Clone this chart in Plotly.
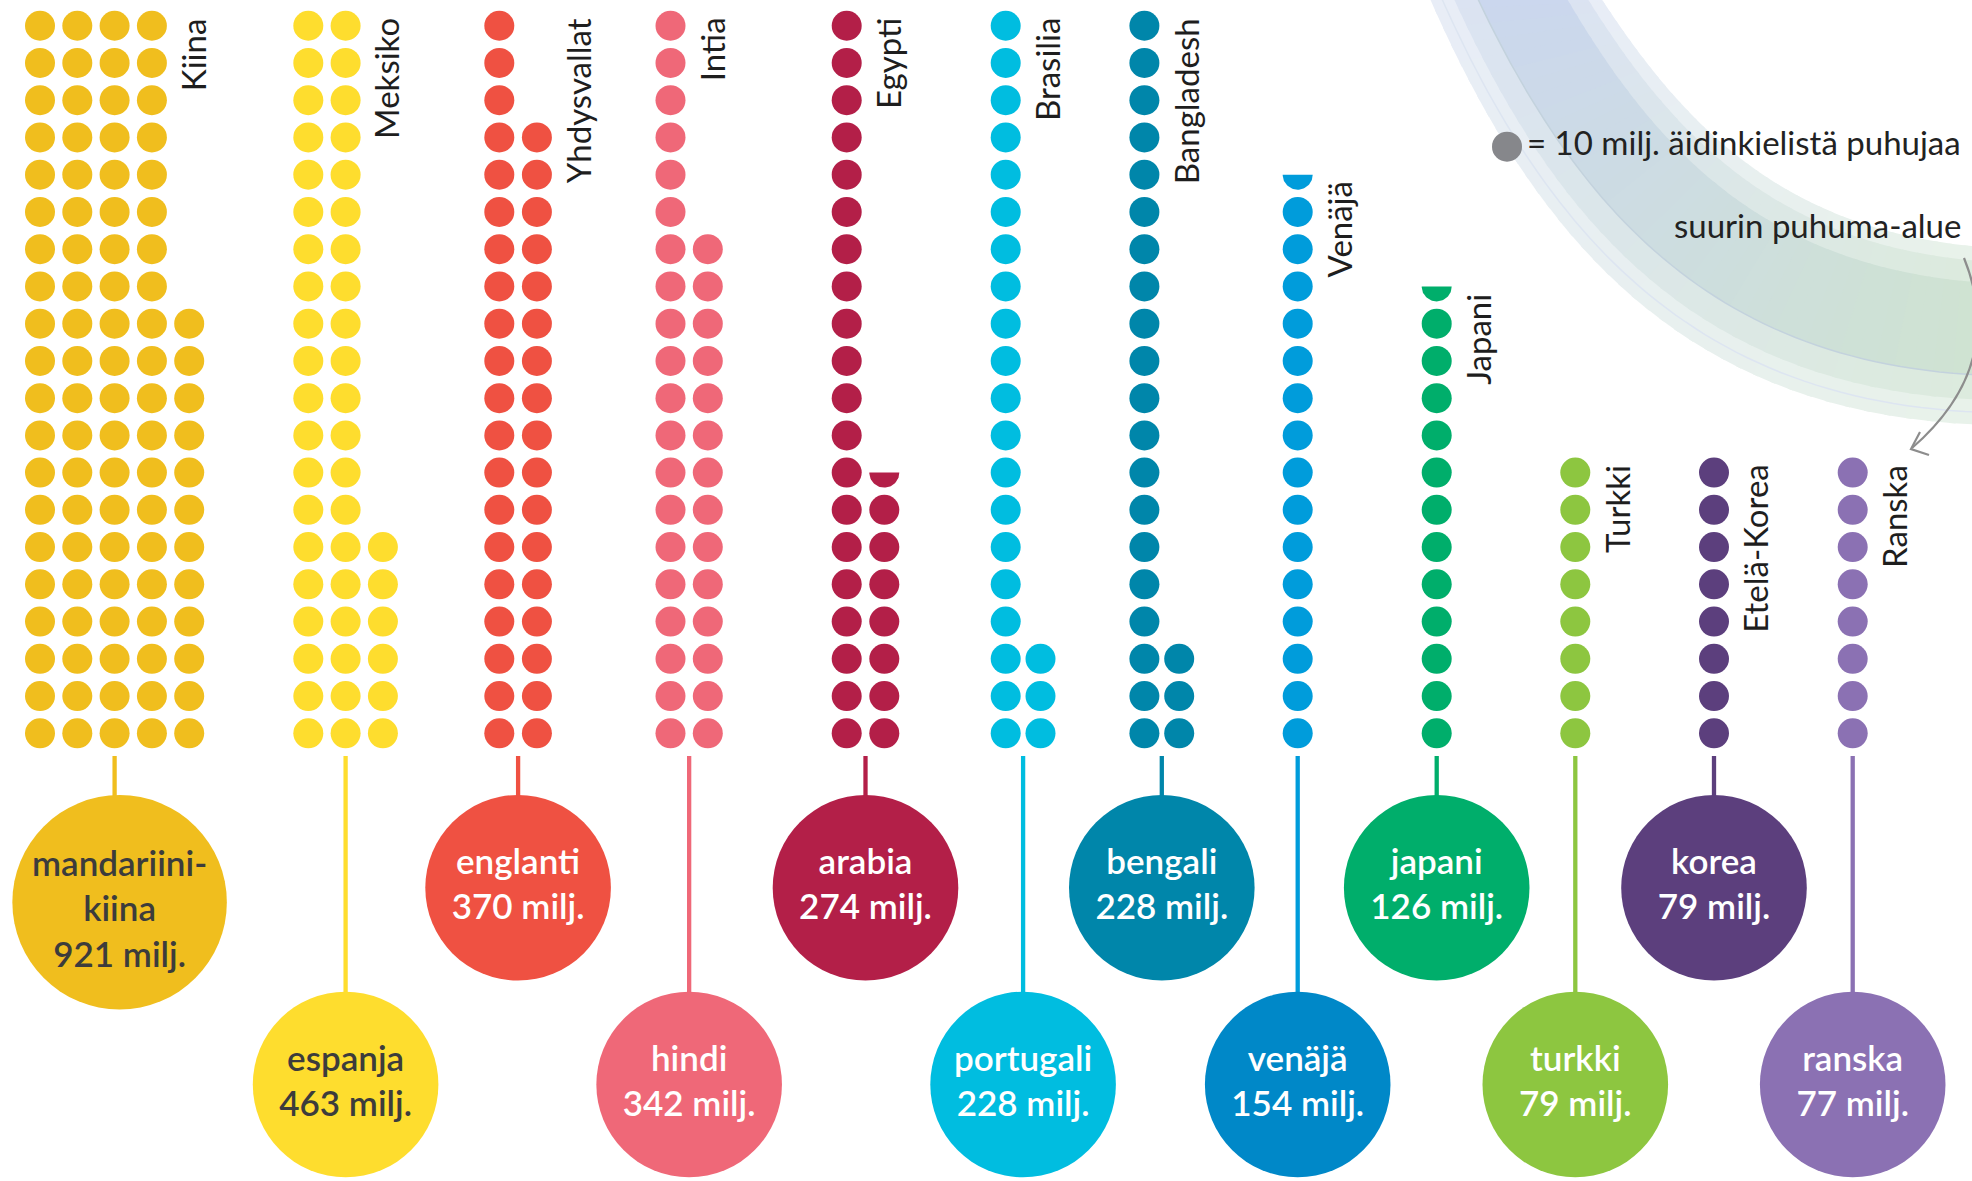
import math
import plotly.graph_objects as go

# ---------------- data ----------------
languages = ["mandariini-kiina", "espanja", "englanti", "hindi", "arabia", "portugali",
             "bengali", "venäjä", "japani", "turkki", "korea", "ranska"]
speakers_milj = [921, 463, 370, 342, 274, 228, 228, 154, 126, 79, 79, 77]
dot_counts = [92, 46, 37, 34, 27.5, 23, 23, 15.5, 12.5, 8, 8, 8]   # 1 dot = 10 milj.
countries = ["Kiina", "Meksiko", "Yhdysvallat", "Intia", "Egypti", "Brasilia",
             "Bangladesh", "Venäjä", "Japani", "Turkki", "Etelä-Korea", "Ranska"]
unit_label = "milj."
legend_label = "= 10 milj. äidinkielistä puhujaa"
region_label = "suurin puhuma-alue"

# ---------------- styles ----------------
dot_colors = ["#F0BE1E", "#FEDD2E", "#EF5142", "#EF6878", "#B31F48", "#00BDE0",
              "#0086AA", "#009CDB", "#00AE6B", "#8DC640", "#5C3F7D", "#8B71B3"]
bubble_colors = ["#F0BE1E", "#FEDD2E", "#EF5142", "#EF6878", "#B31F48", "#00BDE0",
                 "#0086AA", "#0088C8", "#00AE6B", "#8DC640", "#5C3F7D", "#8B71B3"]
bubble_text_colors = ["#3C3C3C", "#3C3C3C"] + ["#FFFFFF"] * 10
FONT = "Lato"

# ---------------- layout geometry (pixels) ----------------
W, H = 1972, 1181
MAX_ROWS = 20
ROW_STEP = 37.24
BOTTOM_Y = 733.3
DOT_D = 30
R = DOT_D / 2
first_col_x = [40, 308.3, 499.3, 670.5, 846.7, 1005.7, 1144.4, 1297.7, 1436.7, 1575.3, 1714, 1852.7]
col_step = [37.3, 37.3, 37.6, 37.3, 37.6, 34.8, 34.8, 37.3, 37.3, 37.3, 37.3, 37.3]
bubble_row = [0, 1, 0, 1, 0, 1, 0, 1, 0, 1, 0, 1]
STEM_TOP = 756
BUBBLE_TOP = [795, 991.7]
BUBBLE_D = 185.6
BIG_BUBBLE_D = 214.5
LABEL_FS = 33
BUBBLE_FS = 35
LEGEND_FS = 33

fig = go.Figure()
shapes = []
annotations = []


def bez(p0, p1, p2, p3, t):
    u = 1 - t
    return (u**3 * p0[0] + 3 * u * u * t * p1[0] + 3 * u * t * t * p2[0] + t**3 * p3[0],
            u**3 * p0[1] + 3 * u * u * t * p1[1] + 3 * u * t * t * p2[1] + t**3 * p3[1])


def mix(c1, c2, t):
    a = [int(c1[i:i + 2], 16) for i in (1, 3, 5)]
    b = [int(c2[i:i + 2], 16) for i in (1, 3, 5)]
    return "#%02x%02x%02x" % tuple(round(a[k] + (b[k] - a[k]) * t) for k in range(3))


# ---------------- decorative swoosh (top right) ----------------
UP = [(1597, -8), (1680, 120), (1780, 235), (1995, 248)]
LO = [(1427, -8), (1530, 230), (1680, 420), (1995, 425)]
layers = [
    (0.0, 1.0, "#e8edf7", "#e8f2e9"),
    (0.08, 0.86, "#dbe3f2", "#dcebdd"),
    (0.2, 0.72, "#cbd7ee", "#cfe3d1"),
]
NSEG = 40
for s0, s1, ca, cb in layers:
    for k in range(NSEG):
        ta = k / NSEG
        tb = min(1.0, (k + 1.3) / NSEG)
        pts = []
        for t in (ta, tb):
            u, l = bez(*UP, t), bez(*LO, t)
            pts.append((u[0] + (l[0] - u[0]) * s0, u[1] + (l[1] - u[1]) * s0))
        for t in (tb, ta):
            u, l = bez(*UP, t), bez(*LO, t)
            pts.append((u[0] + (l[0] - u[0]) * s1, u[1] + (l[1] - u[1]) * s1))
        path = "M " + " L ".join(f"{x:.1f} {y:.1f}" for x, y in pts) + " Z"
        shapes.append(dict(type="path", path=path, xref="x", yref="y", layer="below",
                           fillcolor=mix(ca, cb, (k + 0.5) / NSEG), line=dict(width=0)))
for s, col in ((0.72, "#c3d2dd"), (0.93, "#dde5f1")):
    pts = []
    for k in range(61):
        t = k / 60
        u, l = bez(*UP, t), bez(*LO, t)
        pts.append((u[0] + (l[0] - u[0]) * s, u[1] + (l[1] - u[1]) * s))
    shapes.append(dict(type="path", xref="x", yref="y", layer="below",
                       path="M " + " L ".join(f"{x:.1f} {y:.1f}" for x, y in pts),
                       line=dict(color=col, width=1.5)))

# arrow from "suurin puhuma-alue"
shapes.append(dict(type="path", xref="x", yref="y",
                   path="M 1964 258 C 1985 310, 1990 380, 1912 448",
                   line=dict(color="#8d8d8d", width=2.2)))
shapes.append(dict(type="path", xref="x", yref="y",
                   path="M 1920 432 L 1911 449 L 1929 455",
                   line=dict(color="#8d8d8d", width=2.2)))

# ---------------- dots, stems, bubbles ----------------
for i, n in enumerate(dot_counts):
    full = int(math.floor(n))
    frac = n - full
    w = max(1, math.ceil(n / MAX_ROWS))
    counts = [MAX_ROWS if c < w - 1 else full - MAX_ROWS * (w - 1) for c in range(w)]
    xs, ys = [], []
    for c in range(w):
        for r in range(counts[c]):
            xs.append(first_col_x[i] + c * col_step[i])
            ys.append(BOTTOM_Y - r * ROW_STEP)
    group_cx = first_col_x[i] + (w - 1) * col_step[i] / 2

    # stem + bubble
    row = bubble_row[i]
    bd = BIG_BUBBLE_D if i == 0 else BUBBLE_D
    by = BUBBLE_TOP[row] + bd / 2
    bx = group_cx + (5 if i == 0 else 0)
    fig.add_trace(go.Scatter(x=[group_cx, group_cx], y=[STEM_TOP, BUBBLE_TOP[row] + 2],
                             mode="lines", line=dict(color=dot_colors[i], width=4.3),
                             hoverinfo="skip", cliponaxis=False))
    fig.add_trace(go.Scatter(x=[bx], y=[by], mode="markers",
                             marker=dict(size=bd, color=bubble_colors[i], line=dict(width=0)),
                             hoverinfo="skip", cliponaxis=False))
    name = languages[i]
    if "-" in name:
        a, b = name.split("-", 1)
        name = a + "-<br>" + b
    txt = f"{name}<br>{speakers_milj[i]} {unit_label}"
    fig.add_trace(go.Scatter(x=[bx], y=[by + (10 if i == 0 else 0)], mode="text", text=[txt],
                             textposition="middle center",
                             textfont=dict(family=FONT, size=BUBBLE_FS, color=bubble_text_colors[i],
                                           weight=600),
                             hoverinfo="skip", cliponaxis=False))

    # dots
    fig.add_trace(go.Scatter(x=xs, y=ys, mode="markers",
                             marker=dict(size=DOT_D, color=dot_colors[i], line=dict(width=0)),
                             hoverinfo="skip", cliponaxis=False))
    top_visible = BOTTOM_Y - (counts[0] - 1) * ROW_STEP - R
    if frac > 0:
        c = w - 1
        r = counts[c]
        cx = first_col_x[i] + c * col_step[i]
        cy = BOTTOM_Y - r * ROW_STEP
        ycut = cy + R - 2 * R * frac
        a0 = math.asin(max(-1.0, min(1.0, (ycut - cy) / R)))
        th = [a0 + (math.pi - 2 * a0) * k / 40 for k in range(41)]
        px = [cx + R * math.cos(t) for t in th]
        py = [cy + R * math.sin(t) for t in th]
        fig.add_trace(go.Scatter(x=px + [px[0]], y=py + [py[0]], mode="lines", fill="toself",
                                 fillcolor=dot_colors[i], line=dict(width=0),
                                 hoverinfo="skip", cliponaxis=False))
        if c == 0:
            top_visible = ycut

    # country label (rotated), placed right of the dots it sits beside
    label_top = top_visible + 6
    est_len = len(countries[i]) * 15
    right_col = 0
    for r in range(MAX_ROWS):
        yc = BOTTOM_Y - r * ROW_STEP
        if label_top - R <= yc <= label_top + est_len:
            for c in range(w):
                if r < counts[c]:
                    right_col = max(right_col, c)
    cap_x = first_col_x[i] + right_col * col_step[i] + R + 14
    annotations.append(dict(x=cap_x - 0.27 * LABEL_FS, y=label_top, xref="x", yref="y",
                            text=countries[i], textangle=-90, showarrow=False,
                            xanchor="left", yanchor="top", borderpad=0,
                            font=dict(family=FONT, size=LABEL_FS, color="#1e1e1e")))

# ---------------- legend ----------------
fig.add_trace(go.Scatter(x=[1507], y=[146.7], mode="markers",
                         marker=dict(size=DOT_D, color="#86878B", line=dict(width=0)),
                         hoverinfo="skip"))
annotations.append(dict(x=1962, y=141.5, xref="x", yref="y", text=legend_label, showarrow=False,
                        xanchor="right", yanchor="middle", borderpad=0,
                        font=dict(family=FONT, size=LEGEND_FS, color="#222222")))
annotations.append(dict(x=1962, y=224.5, xref="x", yref="y", text=region_label, showarrow=False,
                        xanchor="right", yanchor="middle", borderpad=0,
                        font=dict(family=FONT, size=LEGEND_FS, color="#222222")))

fig.update_layout(
    width=W, height=H, margin=dict(l=0, r=0, t=0, b=0),
    paper_bgcolor="white", plot_bgcolor="white", showlegend=False,
    xaxis=dict(range=[0, W], visible=False, fixedrange=True),
    yaxis=dict(range=[H, 0], visible=False, fixedrange=True),
    shapes=shapes, annotations=annotations,
)

fig.write_html("out.html", config={"displayModeBar": False, "staticPlot": True},
               post_script="document.body.style.margin='0';document.body.style.overflow='hidden';")
